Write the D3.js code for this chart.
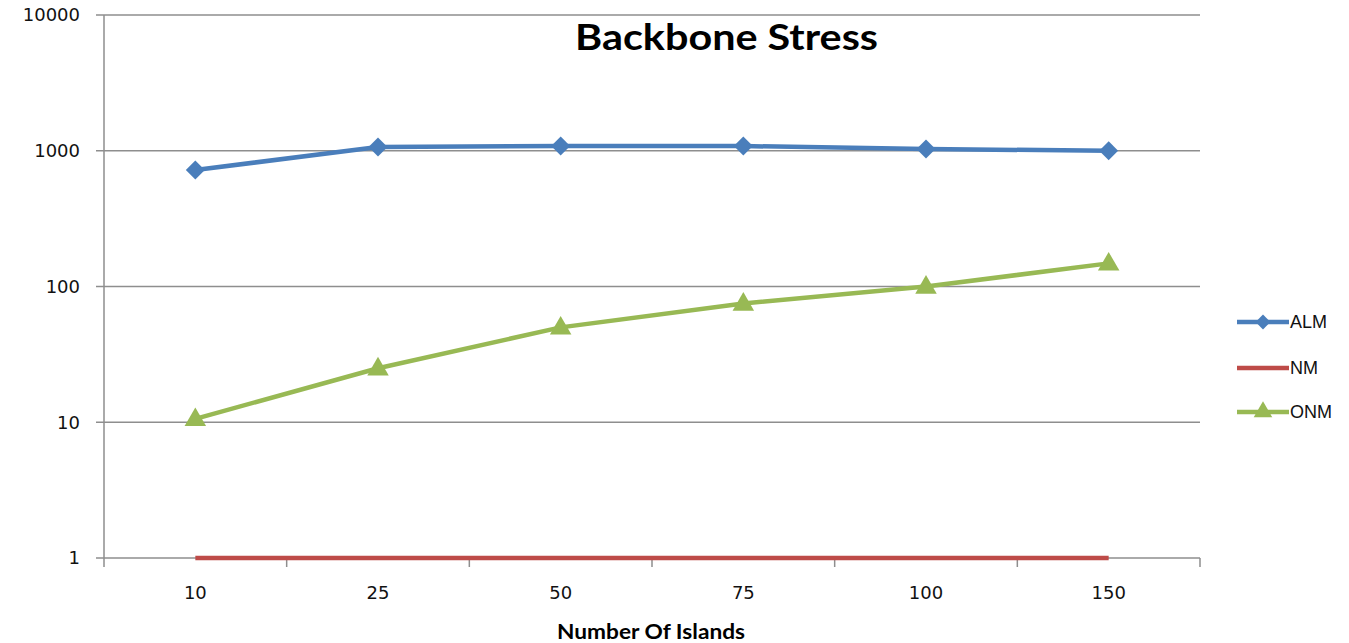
<!DOCTYPE html>
<html><head><meta charset="utf-8">
<script src="https://cdn.jsdelivr.net/npm/d3@7"></script>
<style>body{margin:0;background:#fff}</style>
</head><body>
<svg id="c" width="1349" height="643"></svg>
<script>
const categories = ["10","25","50","75","100","150"];
const almValues = [721, 1066, 1083, 1083, 1030, 1000];
const nmValues = [1, 1, 1, 1, 1, 1];
const onmValues = [10.6, 25, 50, 75, 100, 148];
const yTicks = [1, 10, 100, 1000, 10000];
const seriesNames = ["ALM", "NM", "ONM"];
const colors = ["#4a7ebb", "#be4b48", "#98b954"];

const svg = d3.select("#c");
const L = 104, R = 1200, T = 15, B = 558;
const x = d3.scaleBand().domain(categories).range([L, R]);
const y = d3.scaleLog().domain([1, 10000]).range([B, T]);

// gridlines
svg.append("g").selectAll("line").data(yTicks).join("line")
  .attr("x1", L - 8).attr("x2", R).attr("y1", d => y(d)).attr("y2", d => y(d))
  .attr("stroke", "#8e8e8e").attr("stroke-width", 1.5);
// y axis line
svg.append("line").attr("x1", L).attr("x2", L).attr("y1", T).attr("y2", B + 9)
  .attr("stroke", "#8e8e8e").attr("stroke-width", 1.5);
// x tick marks at boundaries
const bounds = categories.map(c => x(c)).concat([R]).slice(1);
svg.append("g").selectAll("line").data(bounds).join("line")
  .attr("x1", d => d).attr("x2", d => d).attr("y1", B).attr("y2", B + 9)
  .attr("stroke", "#8e8e8e").attr("stroke-width", 1.5);

// y labels
svg.append("g").selectAll("text").data(yTicks).join("text")
  .attr("x", 80).attr("y", d => y(d)).attr("dy", "0.36em")
  .attr("text-anchor", "end").attr("font-family", "DejaVu Sans").attr("font-size", 18)
  .attr("fill", "#111").text(d => d);
// x labels
svg.append("g").selectAll("text").data(categories).join("text")
  .attr("x", d => x(d) + x.bandwidth() / 2).attr("y", 599)
  .attr("text-anchor", "middle").attr("font-family", "DejaVu Sans").attr("font-size", 18)
  .attr("fill", "#111").text(d => d);

// titles
svg.append("text").attr("x", 575).attr("y", 50)
  .attr("font-family", "Lato").attr("font-weight", "bold").attr("font-size", 37)
  .attr("textLength", 303).attr("lengthAdjust", "spacingAndGlyphs")
  .attr("fill", "#000").text("Backbone Stress");
svg.append("text").attr("x", 557).attr("y", 639)
  .attr("font-family", "Lato").attr("font-weight", "bold").attr("font-size", 20)
  .attr("textLength", 188).attr("lengthAdjust", "spacingAndGlyphs")
  .attr("fill", "#000").text("Number Of Islands");

const cx = d => x(d) + x.bandwidth() / 2;
const line = d3.line().x(d => cx(d.c)).y(d => y(d.v));
const series = [almValues, nmValues, onmValues].map((vals, i) =>
  vals.map((v, j) => ({ c: categories[j], v })));

series.forEach((s, i) => {
  svg.append("path").datum(s).attr("d", line).attr("fill", "none")
    .attr("stroke", colors[i]).attr("stroke-width", 4.5).attr("stroke-linejoin", "round");
});
// markers
const diamond = d3.symbol().type(d3.symbolSquare).size(180);
const tri = d3.symbol().type(d3.symbolTriangle).size(200);
svg.append("g").selectAll("path").data(series[0]).join("path")
  .attr("transform", d => `translate(${cx(d.c)},${y(d.v)}) rotate(45)`)
  .attr("d", diamond).attr("fill", colors[0]);
svg.append("g").selectAll("path").data(series[2]).join("path")
  .attr("transform", d => `translate(${cx(d.c)},${y(d.v) + 1})`)
  .attr("d", tri).attr("fill", colors[2]);

// legend
const ly = [322, 368, 412];
const lg = svg.append("g");
seriesNames.forEach((n, i) => {
  lg.append("line").attr("x1", 1237).attr("x2", 1289).attr("y1", ly[i]).attr("y2", ly[i])
    .attr("stroke", colors[i]).attr("stroke-width", 4.5);
  if (i === 0) lg.append("path").attr("transform", `translate(1263,${ly[i]}) rotate(45)`)
    .attr("d", d3.symbol().type(d3.symbolSquare).size(110)).attr("fill", colors[i]);
  if (i === 2) lg.append("path").attr("transform", `translate(1263,${ly[i]})`)
    .attr("d", d3.symbol().type(d3.symbolTriangle).size(150)).attr("fill", colors[i]);
  lg.append("text").attr("x", 1290).attr("y", ly[i]).attr("dy", "0.36em")
    .attr("font-family", "Liberation Sans").attr("font-size", 18).attr("fill", "#111").text(n);
});
</script>
</body></html>
